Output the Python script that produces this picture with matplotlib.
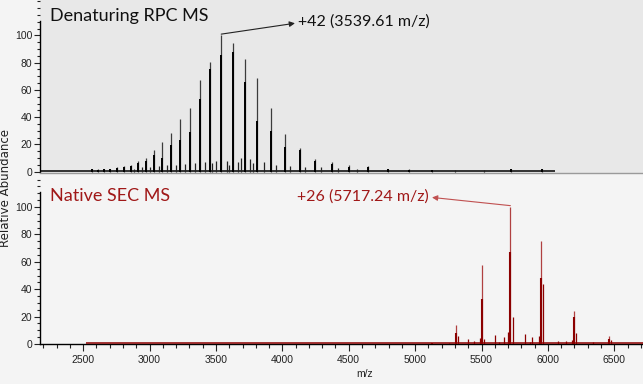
import matplotlib
matplotlib.use("Agg")
import matplotlib.pyplot as plt
from matplotlib.ticker import MultipleLocator, FixedLocator

# ---------------- data ----------------
# Denaturing RPC MS: charge-state envelope (m/z, peak top, dark core height)
rpc_mz = [2563.4, 2608.4, 2654.9, 2703.2, 2753.3, 2805.2, 2859.1, 2915.1,
          2973.4, 3034.1, 3097.3, 3163.2, 3231.9, 3303.7, 3378.7, 3457.3,
          3539.61, 3625.9, 3716.5, 3811.8, 3912.1, 4017.8, 4129.4, 4247.3,
          4372.2, 4504.7, 4645.4, 4795.2, 4955.0, 5125.9, 5725.0, 5955.0]
rpc_top = [2.0, 1.7, 2.0, 2.2, 3.0, 4.0, 5.0, 7.5,
           10.0, 15.8, 22.0, 28.5, 38.6, 47.0, 67.0, 80.7,
           100.0, 94.7, 83.0, 69.0, 47.0, 27.5, 17.5, 9.5,
           7.0, 4.5, 4.0, 2.0, 1.5, 1.2, 2.0, 2.0]
rpc_core = [1.5, 1.2, 1.5, 1.8, 2.4, 3.0, 4.0, 6.0,
            8.0, 12.0, 10.0, 19.5, 23.0, 29.0, 53.0, 75.0,
            85.7, 88.0, 66.0, 37.0, 30.0, 18.0, 16.0, 8.0,
            5.5, 3.5, 3.0, 1.5, 1.0, 0.8, 1.5, 1.5]
# small satellite / adduct peaks in the RPC spectrum
rpc_sat_mz = [2885, 2945, 3005, 3068, 3132, 3198, 3268, 3340, 3418, 3470,
              3500, 3580, 3600, 3665, 3690, 3760, 3780, 3860, 3950, 4060,
              4170, 4290, 4420, 4560, 5300, 5520]
rpc_sat_h = [2.0, 3.0, 3.5, 4.0, 4.5, 5.0, 5.5, 6.0, 7.0, 6.0,
             8.0, 8.0, 5.0, 7.0, 10.0, 9.0, 6.0, 7.0, 5.0, 4.0,
             3.5, 3.0, 2.5, 2.0, 1.2, 1.2]

# Native SEC MS (m/z, peak top, dark core height)
sec_mz = [5125.9, 5308.9, 5505.6, 5717.24, 5945.9, 6193.6, 6462.9]
sec_top = [1.5, 13.6, 58.0, 100.0, 75.0, 24.3, 6.0]
sec_core = [1.0, 8.2, 32.6, 67.0, 48.0, 20.0, 4.0]
# minor peaks in the native spectrum
sec_sat_mz = [5254, 5320, 5396, 5446, 5491, 5521, 5604, 5634, 5667, 5697,
              5735, 5830, 5863, 5882, 5930, 5961, 6076, 6136, 6180, 6210,
              6342, 6475]
sec_sat_h = [0.6, 6.0, 3.4, 2.5, 4.7, 4.0, 6.6, 1.7, 5.3, 9.0,
             20.0, 7.0, 1.7, 4.8, 6.0, 43.6, 2.5, 2.0, 3.0, 8.0,
             1.5, 3.0]

x_major = [2500, 3000, 3500, 4000, 4500, 5000, 5500, 6000, 6500]
y_major = [0, 20, 40, 60, 80, 100]

XLIM = (2175, 6716)
RPC_END = 6050
SEC_START = 2520

# ---------------- figure ----------------
W, H = 643, 384
fig = plt.figure(figsize=(W / 100, H / 100), dpi=100, facecolor="#f4f4f4")
ax1 = fig.add_axes([40 / W, 1 - 173 / H, 603 / W, 173 / H])
ax2 = fig.add_axes([40 / W, 40 / H, 603 / W, 170 / H])

tick_font = dict(family=["Liberation Sans", "DejaVu Sans"], size=7.5)
title_font = ["Lato", "DejaVu Sans"]

for ax in (ax1, ax2):
    ax.set_xlim(*XLIM)
    ax.spines["top"].set_visible(False)
    ax.spines["right"].set_visible(False)
    ax.spines["left"].set_bounds(0, 111)
    ax.spines["left"].set_linewidth(1.0)
    ax.yaxis.set_major_locator(FixedLocator(y_major))
    ax.yaxis.set_minor_locator(MultipleLocator(5))
    ax.tick_params(axis="y", which="major", length=4, width=0.8, pad=1.5,
                   colors="#222222")
    ax.tick_params(axis="y", which="minor", length=2.2, width=0.8,
                   colors="#222222")

# ---- top panel ----
ax1.set_facecolor("#e8e8e8")
ax1.set_ylim(-1.1, 126.1)
ax1.spines["bottom"].set_color("#9a9a9a")
ax1.spines["bottom"].set_linewidth(1.0)
ax1.tick_params(axis="x", which="both", bottom=False, labelbottom=False)
ax1.set_yticks(y_major)
ax1.set_yticklabels([str(v) for v in y_major], **tick_font)

ax1.plot([XLIM[0], RPC_END], [0.4, 0.4], color="black", lw=1.1,
         solid_capstyle="butt", zorder=3)
ax1.vlines(rpc_sat_mz, 0, rpc_sat_h, color="#222222", lw=0.9, zorder=3)
ax1.vlines(rpc_mz, 0, rpc_top, color="#3c3c3c", lw=0.9, zorder=4)
ax1.vlines(rpc_mz, 0, rpc_core, color="black", lw=1.4, zorder=5)

ax1.text(2250, 114, "Denaturing RPC MS", family=title_font, fontsize=13,
         color="#111111", ha="left", va="center")
ax1.text(4118, 110, "+42 (3539.61 m/z)", family=title_font, fontsize=11.5,
         color="#111111", ha="left", va="center")
ax1.annotate("", xy=(4095, 109), xytext=(3539.61, 101),
             arrowprops=dict(arrowstyle="-|>", color="#222222", lw=0.8,
                             mutation_scale=8, shrinkA=0, shrinkB=0))

# ---- bottom panel ----
ax2.set_facecolor("none")
ax2.set_ylim(0, 124.1)
ax2.spines["bottom"].set_linewidth(1.0)
ax2.xaxis.set_major_locator(FixedLocator(x_major))
ax2.xaxis.set_minor_locator(MultipleLocator(100))
ax2.tick_params(axis="x", which="major", length=5, width=0.8, pad=3,
                colors="#222222")
ax2.tick_params(axis="x", which="minor", length=3, width=0.8,
                colors="#222222")
ax2.set_xticks(x_major)
ax2.set_xticklabels([str(v) for v in x_major], **tick_font)
ax2.set_yticks(y_major)
ax2.set_yticklabels([str(v) for v in y_major], **tick_font)

red = "#8b0000"
light_red = "#b04040"
ax2.plot([SEC_START, XLIM[1]], [0.4, 0.4], color=red, lw=1.1,
         solid_capstyle="butt", zorder=3)
ax2.vlines(sec_sat_mz, 0, sec_sat_h, color=red, lw=0.9, zorder=3)
ax2.vlines(sec_mz, 0, sec_top, color=light_red, lw=0.9, zorder=4)
ax2.vlines(sec_mz, 0, sec_core, color=red, lw=1.5, zorder=5)

ax2.text(2250, 107.7, "Native SEC MS", family=title_font, fontsize=13,
         color="#a01818", ha="left", va="center")
ax2.text(5100, 107.5, "+26 (5717.24 m/z)", family=title_font, fontsize=11.5,
         color="#a01818", ha="right", va="center")
ax2.annotate("", xy=(5127, 107), xytext=(5717.24, 101),
             arrowprops=dict(arrowstyle="-|>", color="#c05050", lw=0.8,
                             mutation_scale=8, shrinkA=0, shrinkB=0))

ax2.text(0.539, -0.176, "m/z", transform=ax2.transAxes, ha="center",
         va="center", family=["Liberation Sans", "DejaVu Sans"], fontsize=7.5,
         color="#222222")
fig.text(6 / W, 1 - 188 / H, "Relative Abundance", rotation=90, ha="center",
         va="center", family=["DejaVu Sans"], fontsize=8.5, color="#222222")

fig.savefig("out.png", dpi=100, facecolor=fig.get_facecolor())
